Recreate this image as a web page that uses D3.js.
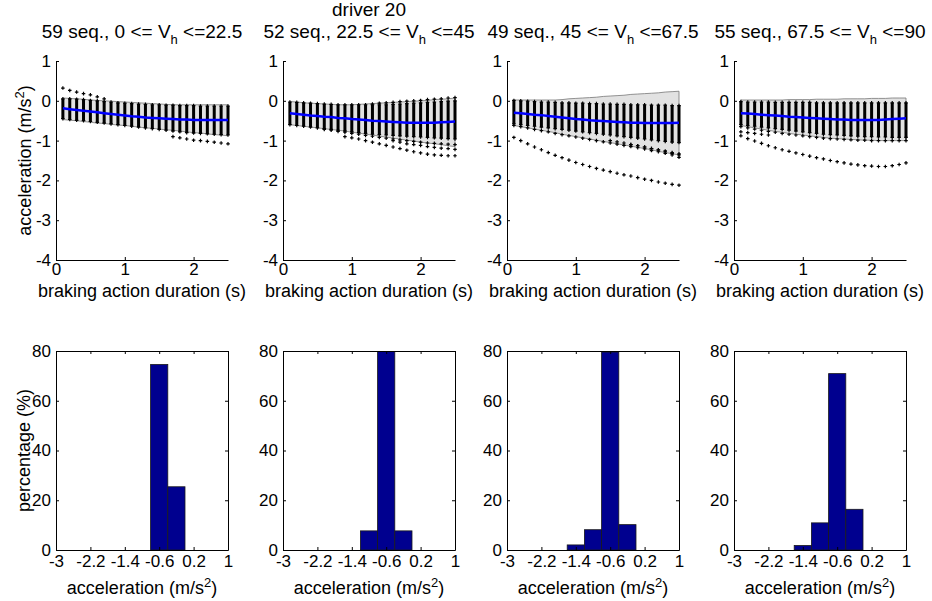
<!DOCTYPE html>
<html>
<head>
<meta charset="utf-8">
<script src="https://cdn.jsdelivr.net/npm/d3@7"></script>
<style>
  body { margin: 0; background: #fff; }
  svg { display: block; }
  text, tspan { font-family: "Liberation Sans", Arial, sans-serif; fill: #000; }
</style>
</head>
<body>
<svg id="fig" width="932" height="601"></svg>
<script>
// ---- braking action duration samples (s) ----
const times = [0.1,0.2,0.3,0.4,0.5,0.6,0.7,0.8,0.9,1.0,1.1,1.2,1.3,1.4,1.5,1.6,1.7,1.8,1.9,2.0,2.1,2.2,2.3,2.4,2.5];

// ---- speed classes ----
const seqCounts = [59, 52, 49, 55];
const speedLo = ["0", "22.5", "45", "67.5"];
const speedHi = ["22.5", "45", "67.5", "90"];
const driverTitle = "driver 20";

// ---- class 1: 0 <= Vh <= 22.5 ----
const meanP1    = [-0.19,-0.21,-0.23,-0.25,-0.27,-0.29,-0.31,-0.33,-0.35,-0.37,-0.39,-0.40,-0.42,-0.43,-0.44,-0.45,-0.46,-0.47,-0.47,-0.48,-0.48,-0.48,-0.48,-0.48,-0.48];
const bandHiP1  = [0.07,0.06,0.05,0.04,0.02,0.01,0.00,-0.01,-0.02,-0.03,-0.04,-0.05,-0.06,-0.07,-0.08,-0.09,-0.10,-0.10,-0.10,-0.10,-0.10,-0.10,-0.10,-0.10,-0.10];
const bandLoP1  = [-0.47,-0.49,-0.50,-0.52,-0.54,-0.56,-0.57,-0.59,-0.61,-0.62,-0.64,-0.66,-0.68,-0.69,-0.71,-0.73,-0.74,-0.76,-0.78,-0.80,-0.81,-0.83,-0.85,-0.86,-0.88];
const stackHiP1 = [0.05,0.05,0.04,0.03,0.01,0.00,-0.02,-0.03,-0.05,-0.06,-0.07,-0.08,-0.09,-0.10,-0.10,-0.11,-0.11,-0.12,-0.12,-0.12,-0.13,-0.13,-0.13,-0.13,-0.13];
const stackLoP1 = [-0.45,-0.47,-0.49,-0.50,-0.52,-0.54,-0.56,-0.58,-0.60,-0.62,-0.64,-0.66,-0.68,-0.70,-0.72,-0.74,-0.76,-0.78,-0.80,-0.81,-0.82,-0.83,-0.84,-0.85,-0.86];
const outliersP1 = [
  [0.32,0.26,0.22,0.18,0.15,0.10,0.05,null,null,null,null,null,null,null,null,null,null,null,null,null,null,null,null,null,null],
  [null,null,null,null,null,null,null,null,null,null,null,null,null,null,null,null,-0.90,-0.93,-0.96,-0.99,-1.00,-1.02,-1.04,-1.06,-1.08]
];

// ---- class 2: 22.5 <= Vh <= 45 ----
const meanP2    = [-0.31,-0.33,-0.35,-0.37,-0.38,-0.40,-0.41,-0.43,-0.44,-0.46,-0.47,-0.48,-0.50,-0.51,-0.52,-0.53,-0.54,-0.55,-0.55,-0.55,-0.55,-0.55,-0.54,-0.53,-0.52];
const bandHiP2  = [-0.02,-0.03,-0.05,-0.06,-0.07,-0.08,-0.09,-0.10,-0.10,-0.10,-0.09,-0.08,-0.07,-0.06,-0.05,-0.04,-0.03,-0.02,-0.01,0.00,0.01,0.03,0.04,0.05,0.07];
const bandLoP2  = [-0.60,-0.62,-0.64,-0.66,-0.68,-0.70,-0.72,-0.74,-0.76,-0.79,-0.81,-0.84,-0.86,-0.89,-0.91,-0.94,-0.96,-0.99,-1.01,-1.04,-1.06,-1.08,-1.10,-1.13,-1.15];
const stackHiP2 = [-0.03,-0.04,-0.05,-0.06,-0.07,-0.08,-0.09,-0.10,-0.10,-0.10,-0.10,-0.10,-0.10,-0.10,-0.10,-0.09,-0.08,-0.07,-0.06,-0.05,-0.04,-0.03,-0.02,-0.01,0.00];
const stackLoP2 = [-0.60,-0.62,-0.64,-0.66,-0.68,-0.70,-0.72,-0.74,-0.76,-0.78,-0.80,-0.82,-0.84,-0.85,-0.86,-0.87,-0.88,-0.89,-0.90,-0.91,-0.92,-0.93,-0.94,-0.95,-0.96];
const outliersP2 = [
  [null,null,null,null,null,null,null,null,null,null,null,null,-0.08,-0.06,-0.05,-0.04,-0.02,-0.01,0.00,0.01,0.03,0.04,0.05,0.07,0.08],
  [null,null,null,null,null,null,null,null,-0.90,-0.93,-0.96,-1.00,-1.04,-1.08,-1.12,-1.16,-1.20,-1.24,-1.28,-1.31,-1.34,-1.36,-1.37,-1.38,-1.38],
  [null,null,null,null,null,null,null,null,null,null,null,null,null,null,null,-1.00,-1.04,-1.08,-1.10,-1.12,-1.15,-1.17,-1.19,-1.20,-1.22],
  [null,null,null,null,null,-0.72,-0.74,-0.77,-0.79,-0.82,-0.84,-0.87,-0.89,-0.92,-0.94,-0.96,-0.98,-1.00,-1.02,-1.04,-1.06,-1.07,-1.08,-1.09,-1.10]
];

// ---- class 3: 45 <= Vh <= 67.5 ----
const meanP3    = [-0.30,-0.31,-0.33,-0.35,-0.36,-0.38,-0.40,-0.42,-0.44,-0.46,-0.47,-0.49,-0.50,-0.51,-0.52,-0.53,-0.54,-0.55,-0.55,-0.56,-0.56,-0.56,-0.56,-0.56,-0.55];
const bandHiP3  = [0.02,0.02,0.02,0.02,0.02,0.02,0.02,0.03,0.05,0.06,0.07,0.08,0.09,0.11,0.12,0.13,0.14,0.16,0.17,0.18,0.19,0.20,0.22,0.23,0.24];
const bandLoP3  = [-0.62,-0.65,-0.68,-0.71,-0.74,-0.77,-0.80,-0.84,-0.87,-0.90,-0.93,-0.96,-0.99,-1.02,-1.05,-1.08,-1.11,-1.14,-1.17,-1.20,-1.23,-1.27,-1.30,-1.33,-1.36];
const stackHiP3 = [0.01,0.00,-0.01,-0.02,-0.03,-0.03,-0.04,-0.05,-0.05,-0.06,-0.06,-0.07,-0.07,-0.08,-0.08,-0.09,-0.09,-0.10,-0.10,-0.10,-0.11,-0.11,-0.11,-0.12,-0.12];
const stackLoP3 = [-0.58,-0.60,-0.62,-0.64,-0.66,-0.68,-0.70,-0.72,-0.74,-0.76,-0.78,-0.80,-0.82,-0.84,-0.86,-0.88,-0.90,-0.92,-0.94,-0.96,-0.98,-1.00,-1.02,-1.04,-1.05];
const outliersP3 = [
  [-0.92,-1.00,-1.08,-1.16,-1.23,-1.30,-1.37,-1.43,-1.49,-1.55,-1.60,-1.65,-1.70,-1.74,-1.78,-1.82,-1.86,-1.89,-1.93,-1.97,-2.00,-2.04,-2.07,-2.10,-2.12],
  [-0.62,-0.65,-0.68,-0.72,-0.75,-0.78,-0.82,-0.85,-0.88,-0.91,-0.94,-0.97,-1.00,-1.03,-1.06,-1.09,-1.12,-1.15,-1.18,-1.21,-1.25,-1.28,-1.32,-1.36,-1.42],
  [null,null,null,null,null,null,null,null,null,null,null,null,null,null,-1.00,-1.03,-1.06,-1.10,-1.13,-1.16,-1.20,-1.24,-1.28,-1.32,-1.36],
  [null,null,null,null,null,null,null,null,null,null,null,null,null,null,null,null,null,-1.10,-1.13,-1.16,-1.20,-1.23,-1.26,-1.30,-1.33]
];

// ---- class 4: 67.5 <= Vh <= 90 ----
const meanP4    = [-0.31,-0.32,-0.33,-0.35,-0.36,-0.37,-0.38,-0.40,-0.41,-0.42,-0.43,-0.44,-0.45,-0.46,-0.47,-0.47,-0.48,-0.48,-0.48,-0.48,-0.48,-0.47,-0.46,-0.45,-0.44];
const bandHiP4  = [0.02,0.02,0.02,0.02,0.02,0.02,0.02,0.03,0.03,0.03,0.03,0.04,0.04,0.04,0.04,0.05,0.05,0.05,0.05,0.06,0.06,0.06,0.07,0.07,0.07];
const bandLoP4  = [-0.62,-0.65,-0.68,-0.71,-0.74,-0.77,-0.79,-0.82,-0.84,-0.86,-0.88,-0.90,-0.92,-0.94,-0.95,-0.96,-0.97,-0.98,-0.99,-0.99,-1.00,-1.00,-1.00,-1.00,-1.00];
const stackHiP4 = [-0.02,-0.03,-0.03,-0.03,-0.03,-0.04,-0.04,-0.04,-0.04,-0.04,-0.04,-0.05,-0.05,-0.05,-0.05,-0.05,-0.05,-0.05,-0.05,-0.05,-0.05,-0.05,-0.05,-0.05,-0.05];
const stackLoP4 = [-0.60,-0.62,-0.64,-0.66,-0.68,-0.70,-0.72,-0.74,-0.76,-0.78,-0.80,-0.82,-0.84,-0.85,-0.86,-0.87,-0.88,-0.89,-0.90,-0.90,-0.91,-0.91,-0.92,-0.92,-0.92];
const outliersP4 = [
  [-0.88,-0.95,-1.01,-1.07,-1.13,-1.18,-1.23,-1.27,-1.31,-1.35,-1.39,-1.43,-1.46,-1.50,-1.53,-1.56,-1.59,-1.61,-1.63,-1.64,-1.65,-1.65,-1.63,-1.60,-1.56],
  [-0.65,-0.68,-0.71,-0.74,-0.77,-0.79,-0.82,-0.84,-0.86,-0.88,-0.90,-0.92,-0.94,-0.95,-0.96,-0.97,-0.98,-0.99,-0.99,-1.00,-1.00,-1.00,-1.00,-1.00,-1.00],
  [-0.78,-0.80,-0.82,-0.84,-0.86,null,null,null,null,null,null,null,null,null,null,null,null,null,null,null,null,null,null,null,null]
];

// ---- histograms of mean acceleration (percentage per bin) ----
const binCenters = [-1.4, -1.0, -0.6, -0.2];
const binWidth = 0.4;
const histP1 = [0, 0, 74.58, 25.42];
const histP2 = [0, 7.69, 84.62, 7.69];
const histP3 = [2.04, 8.16, 79.59, 10.20];
const histP4 = [1.82, 10.91, 70.91, 16.36];

// ---- tick labels ----
const topXTicks = [0, 1, 2];
const topYTicks = [-4, -3, -2, -1, 0, 1];
const histXTicks = [-3, -2.2, -1.4, -0.6, 0.2, 1];
const histYTicks = [0, 20, 40, 60, 80];

const panels = [
  { mean: meanP1, hi: bandHiP1, lo: bandLoP1, sHi: stackHiP1, sLo: stackLoP1, out: outliersP1, hist: histP1 },
  { mean: meanP2, hi: bandHiP2, lo: bandLoP2, sHi: stackHiP2, sLo: stackLoP2, out: outliersP2, hist: histP2 },
  { mean: meanP3, hi: bandHiP3, lo: bandLoP3, sHi: stackHiP3, sLo: stackLoP3, out: outliersP3, hist: histP3 },
  { mean: meanP4, hi: bandHiP4, lo: bandLoP4, sHi: stackHiP4, sLo: stackLoP4, out: outliersP4, hist: histP4 }
];

// ---- layout ----
const svg = d3.select("#fig");
const lefts = [56, 283, 507, 734];
const W = 172, H = 199;
const topRowY = 61, histRowY = 351;
const titleSize = 19, labelSize = 18, tickSize = 17, subSize = 13;

const x = d3.scaleLinear().domain([0, 2.5]).range([0, W]);
const y = d3.scaleLinear().domain([-4, 1]).range([H, 0]);
const hx = d3.scaleLinear().domain([-3, 1]).range([0, W]);
const hy = d3.scaleLinear().domain([0, 80]).range([H, 0]);

const fmt = d => String(d);
const cross = d3.symbol().type(d3.symbolCross).size(7);

function styleAxis(g, labels) {
  g.select(".domain").attr("stroke", "#000").attr("stroke-width", 1);
  g.selectAll(".tick line").attr("stroke", "#000");
  g.selectAll(".tick text")
    .style("font-family", '"Liberation Sans", Arial, sans-serif')
    .style("font-size", tickSize + "px")
    .attr("fill", "#000");
  if (!labels) g.selectAll(".tick text").remove();
}

function addAccelLabel(sel) {
  sel.append("tspan").attr("fill", "#000").text("acceleration (m/s");
  sel.append("tspan").attr("fill", "#000").attr("dy", -7).style("font-size", subSize + "px").text("2");
  sel.append("tspan").attr("fill", "#000").attr("dy", 7).text(")");
}

svg.append("clipPath").attr("id", "histClip")
  .append("rect").attr("width", W).attr("height", H);

panels.forEach((p, k) => {
  const L = lefts[k];

  // ---------- top row: acceleration profiles ----------
  const g = svg.append("g").attr("transform", `translate(${L},${topRowY})`);

  const band = d3.area()
    .x((d, i) => x(times[i]))
    .y0((d, i) => y(p.lo[i]))
    .y1((d, i) => y(p.hi[i]));
  g.append("path").datum(times)
    .attr("d", band)
    .attr("fill", "#e2e2e2")
    .attr("stroke", "#777")
    .attr("stroke-width", 0.8);

  // dense columns of sequence samples
  g.selectAll("rect.stack").data(times).join("rect")
    .attr("class", "stack")
    .attr("x", d => x(d) - 1.5)
    .attr("width", 3)
    .attr("y", (d, i) => y(p.sHi[i]))
    .attr("height", (d, i) => y(p.sLo[i]) - y(p.sHi[i]))
    .attr("fill", "#000");

  // column end samples and isolated sequences
  const pts = [];
  times.forEach((t, i) => {
    pts.push([t, p.sHi[i]]);
    pts.push([t, p.sLo[i]]);
  });
  p.out.forEach(seq => seq.forEach((v, i) => { if (v !== null) pts.push([times[i], v]); }));
  g.selectAll("path.pt").data(pts).join("path")
    .attr("class", "pt")
    .attr("d", cross)
    .attr("transform", d => `translate(${x(d[0])},${y(d[1])})`)
    .attr("fill", "#000");

  // mean profile
  g.append("path").datum(p.mean)
    .attr("d", d3.line().x((d, i) => x(times[i])).y(d => y(d)))
    .attr("fill", "none")
    .attr("stroke", "#0000ff")
    .attr("stroke-width", 2.5);

  g.append("g").attr("transform", `translate(0,${H})`)
    .call(d3.axisBottom(x).tickValues(topXTicks).tickFormat(fmt).tickSizeInner(-3).tickSizeOuter(0).tickPadding(3))
    .call(a => styleAxis(a, true));
  g.append("g")
    .call(d3.axisLeft(y).tickValues(topYTicks).tickFormat(fmt).tickSizeInner(-3).tickSizeOuter(0).tickPadding(5))
    .call(a => styleAxis(a, true));

  // panel title
  const title = svg.append("text")
    .attr("x", L + W / 2).attr("y", 38)
    .attr("text-anchor", "middle")
    .style("font-size", titleSize + "px");
  title.append("tspan").attr("fill", "#000").text(`${seqCounts[k]} seq., ${speedLo[k]} <= V`);
  title.append("tspan").attr("fill", "#000").attr("dy", 6).style("font-size", subSize + "px").text("h");
  title.append("tspan").attr("fill", "#000").attr("dy", -6).text(` <=${speedHi[k]}`);

  svg.append("text")
    .attr("x", L + W / 2).attr("y", 297)
    .attr("text-anchor", "middle")
    .style("font-size", labelSize + "px")
    .text("braking action duration (s)");

  // ---------- bottom row: histogram ----------
  const h = svg.append("g").attr("transform", `translate(${L},${histRowY})`);
  const bars = h.append("g").attr("clip-path", "url(#histClip)");
  bars.selectAll("rect").data(binCenters.map((c, i) => ({ c, v: p.hist[i] })).filter(d => d.v > 0))
    .join("rect")
    .attr("x", d => hx(d.c - binWidth / 2))
    .attr("width", d => hx(d.c + binWidth / 2) - hx(d.c - binWidth / 2))
    .attr("y", d => hy(d.v))
    .attr("height", d => H - hy(d.v))
    .attr("fill", "#00008f")
    .attr("stroke", "#1a1a1a")
    .attr("stroke-width", 0.8);

  h.append("g").attr("transform", `translate(0,${H})`)
    .call(d3.axisBottom(hx).tickValues(histXTicks).tickFormat(fmt).tickSizeInner(-3).tickSizeOuter(0).tickPadding(5))
    .call(a => styleAxis(a, true));
  h.append("g")
    .call(d3.axisTop(hx).tickValues(histXTicks).tickSizeInner(-3).tickSizeOuter(0))
    .call(a => styleAxis(a, false));
  h.append("g")
    .call(d3.axisLeft(hy).tickValues(histYTicks).tickFormat(fmt).tickSizeInner(-3).tickSizeOuter(0).tickPadding(5))
    .call(a => styleAxis(a, true));
  h.append("g").attr("transform", `translate(${W},0)`)
    .call(d3.axisRight(hy).tickValues(histYTicks).tickSizeInner(-3).tickSizeOuter(0))
    .call(a => styleAxis(a, false));

  const xl = svg.append("text")
    .attr("x", L + W / 2).attr("y", 594)
    .attr("text-anchor", "middle")
    .style("font-size", labelSize + "px");
  addAccelLabel(xl);
});

// figure title
svg.append("text")
  .attr("x", lefts[1] + W / 2).attr("y", 16)
  .attr("text-anchor", "middle")
  .style("font-size", titleSize + "px")
  .text(driverTitle);

// row y-axis labels
const yl1 = svg.append("text")
  .attr("transform", `translate(31,${topRowY + H / 2}) rotate(-90)`)
  .attr("text-anchor", "middle")
  .style("font-size", labelSize + "px");
addAccelLabel(yl1);

svg.append("text")
  .attr("transform", `translate(30,${histRowY + H / 2}) rotate(-90)`)
  .attr("text-anchor", "middle")
  .style("font-size", labelSize + "px")
  .text("percentage (%)");
</script>
</body>
</html>
